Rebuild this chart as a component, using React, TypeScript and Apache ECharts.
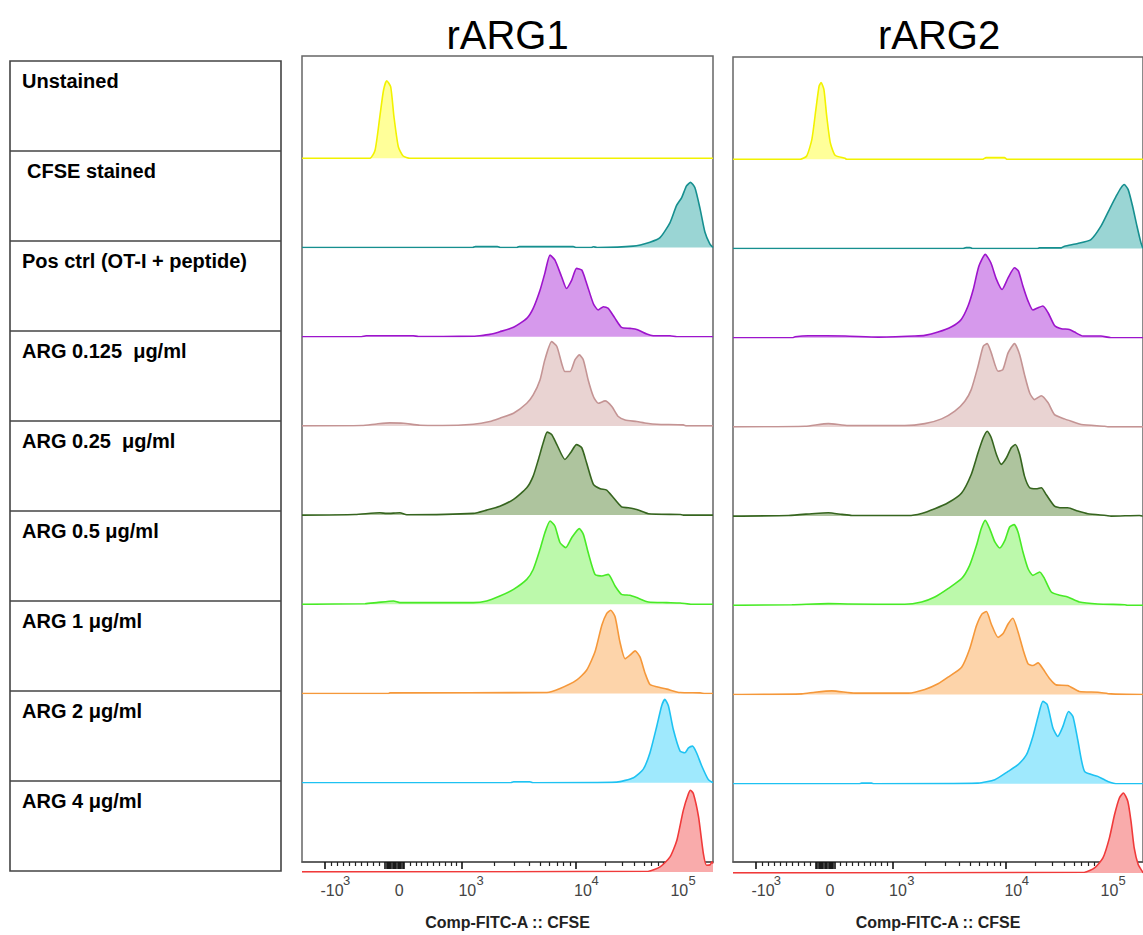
import React, { useEffect, useRef } from 'react';
import * as echarts from 'echarts';

// ---------- Data ----------
const ROW_LABELS = [
  'Unstained',
  'CFSE stained',
  'Pos ctrl (OT-I + peptide)',
  'ARG 0.125  μg/ml',
  'ARG 0.25  μg/ml',
  'ARG 0.5 μg/ml',
  'ARG 1 μg/ml',
  'ARG 2 μg/ml',
  'ARG 4 μg/ml',
];
const PANEL_TITLES = ['rARG1', 'rARG2'];
const AXIS_TITLE = 'Comp-FITC-A :: CFSE';

// display channel scale (0..1024) of the biexponential axis
const MAJOR_TICKS = [57, 238, 398, 682, 925];
const ZERO_TICKS = [207, 210, 213, 216, 219, 222, 225, 228, 231, 234, 241, 244, 247, 250, 253];
const MINOR_TICKS = [
  74, 88, 103, 118, 133, 148, 163, 178, 193,
  269, 284, 298, 313, 327, 342, 356, 371, 385,
  480, 530, 566, 593, 616, 636, 652, 668,
  755, 798, 828, 852, 871, 887, 901, 914,
  998,
];
// tick labels: mantissa part and exponent part, each at its own position
const TICK_BASE_POS = [75, 242, 412, 700, 940];
const TICK_BASE_TEXT = ['-10', '0', '10', '10', '10'];
const TICK_EXP_POS = [111, 444, 730, 972];
const TICK_EXP_TEXT = ['3', '3', '4', '5'];

const LINE_COLORS = ['#f2f200', '#168f8f', '#9d14cc', '#c49494', '#36651f', '#48ea26', '#f5983a', '#1ec2f2', '#f03a3a'];
const FILL_COLORS = ['#ffff99', '#9ad5d4', '#d699ec', '#e9d3d2', '#aec49e', '#bcf9ab', '#fdd4aa', '#9fe9fd', '#f9abab'];

// histograms: [channel, % of row height]
const P1_UNSTAINED = [[0, 0], [169, 0], [182, 9], [194, 47], [203, 76], [211, 87], [221, 80], [229, 47], [240, 13], [252, 2.6], [269, 0], [1024, 0]];
const P1_CFSE = [[0, 0], [425, 0], [432, 1], [487, 1], [494, 0], [535, 0], [541, 1], [676, 1], [682, 0], [720, 0], [726, 0.8], [735, 0], [825, 1.5], [867, 6], [892, 11], [917, 28], [933, 47], [946, 56], [958, 69], [968, 73], [979, 67], [992, 43], [1004, 17], [1016, 4], [1024, 0]];
const P1_POS = [[0, 0], [148, 0], [160, 1], [178, 1], [277, 1], [290, 0.3], [352, 0.3], [430, 0.5], [443, 1], [468, 2.6], [493, 5.6], [527, 10.5], [560, 20.5], [576, 31.7], [593, 52], [605, 71], [618, 91.5], [630, 86], [647, 67], [659, 54], [672, 63.5], [684, 76.6], [697, 74.7], [709, 60], [726, 37], [738, 30], [751, 33.6], [763, 31.7], [780, 20.5], [796, 10.5], [817, 9.3], [834, 8.2], [859, 3], [875, 1.1], [917, 1.1], [934, 0], [1024, 0]];
const P1_ARG0125 = [[0, 0], [149, 0.4], [186, 2.2], [219, 3.4], [253, 3], [294, 0.7], [350, 0.5], [427, 1.9], [468, 4.9], [493, 8.6], [527, 14.2], [560, 25.4], [576, 34.7], [593, 51.5], [605, 74], [622, 94.5], [635, 89], [647, 70], [655, 61], [668, 61], [680, 74], [691, 79.6], [701, 74], [713, 51.5], [726, 33], [738, 25.4], [755, 28], [772, 21.7], [788, 10.5], [805, 6.7], [834, 4.9], [859, 3], [884, 1.9], [950, 1.1], [958, 0], [1024, 0]];
const P1_ARG025 = [[0, 0], [132, 0.7], [194, 2.6], [211, 1.9], [244, 2.6], [261, 0.4], [427, 1.9], [460, 5.6], [493, 10], [527, 17.6], [560, 30.6], [576, 43.7], [589, 62.4], [601, 81], [611, 93], [622, 90.4], [635, 79], [655, 62.4], [669, 69.8], [684, 79], [697, 75.5], [709, 58.6], [726, 34.4], [743, 29.5], [759, 28], [776, 19.4], [796, 9.3], [813, 8.2], [834, 6.3], [863, 1.5], [942, 0.7], [950, 0], [1024, 0]];
const P1_ARG05 = [[0, 0], [157, 0.7], [186, 1.9], [228, 3.7], [244, 1.9], [286, 1.9], [427, 1.9], [460, 3.7], [493, 9.3], [527, 16.8], [560, 28], [576, 39], [593, 61.6], [605, 80], [618, 93.4], [630, 87.8], [643, 69], [657, 63.5], [672, 74.7], [691, 84.8], [701, 78.4], [713, 58], [730, 33.6], [747, 31.7], [763, 33.6], [780, 20.5], [796, 11.2], [817, 10.1], [834, 7.5], [863, 2.6], [909, 1.9], [942, 1.5], [971, 0], [1024, 0]];
const P1_ARG1 = [[0, 0], [215, 0], [219, 0.7], [610, 1.1], [643, 5.6], [684, 14.9], [709, 26], [730, 46.7], [747, 76.6], [759, 89.6], [769, 93.4], [780, 86], [792, 58], [805, 39], [817, 43], [830, 47.8], [842, 41], [855, 22.4], [867, 10], [884, 7.5], [909, 4.9], [942, 1.1], [992, 0.7], [1004, 0], [1024, 0]];
const P1_ARG2 = [[0, 0], [520, 0], [527, 1.1], [568, 1.1], [575, 0], [784, 0.7], [826, 5.6], [850, 14.9], [867, 33.6], [884, 63.5], [896, 86], [904, 93.4], [913, 86], [925, 60], [942, 35.5], [954, 33.6], [963, 39], [973, 41], [983, 33.6], [996, 18.7], [1012, 3.7], [1024, 0]];
const P1_ARG4 = [[0, 0], [863, 0.7], [892, 5.6], [917, 16.8], [934, 35.5], [950, 69], [963, 87.8], [968, 91.5], [975, 87.8], [988, 61.6], [1000, 20.5], [1008, 7.5], [1017, 8], [1021, 11.2], [1024, 9.3]];

const P2_UNSTAINED = [[0, 0], [168, 0], [184, 3.7], [197, 22.4], [207, 56], [215, 82], [220, 86], [227, 78.4], [234, 48.6], [243, 18.7], [255, 4.5], [280, 1.1], [284, 0], [624, 0], [632, 1.9], [678, 1.9], [684, 0], [1024, 0]];
const P2_CFSE = [[0, 0], [575, 0], [582, 1], [592, 1], [598, 0], [760, 0], [765, 0.7], [820, 0.7], [828, 2.6], [861, 5.6], [894, 10], [919, 25], [940, 43.7], [957, 58.6], [969, 68], [977, 71.7], [987, 66], [998, 47.4], [1009, 25], [1019, 6.3], [1024, 0]];
const P2_POS = [[0, 0], [150, 0], [155, 1.1], [188, 2.2], [280, 1.9], [363, 0.7], [454, 1.9], [479, 2.6], [512, 6.3], [546, 12.3], [570, 20.5], [587, 35.5], [600, 54], [614, 80], [630, 93.4], [644, 84], [658, 65.4], [672, 54], [687, 67], [703, 78.4], [713, 74.7], [724, 58], [737, 41], [749, 31], [762, 33.6], [774, 35.5], [787, 28], [803, 13.8], [820, 10.1], [840, 9.3], [853, 6.3], [874, 1.9], [919, 1.9], [944, 0], [1024, 0]];
const P2_ARG0125 = [[0, 0], [180, 0.7], [238, 3.7], [288, 1.5], [355, 1.5], [429, 1.5], [479, 3.7], [521, 9], [554, 17.6], [579, 28.8], [595, 41.8], [612, 68], [625, 90.4], [635, 93.4], [645, 83], [662, 62.4], [674, 64.2], [687, 83], [703, 93.4], [716, 81], [728, 58.6], [741, 38], [753, 30.6], [770, 35], [787, 27], [803, 13.8], [828, 9], [845, 6.3], [870, 2.6], [928, 0.7], [936, 0], [1024, 0]];
const P2_ARG025 = [[0, 0], [139, 0.7], [205, 3], [238, 3.7], [272, 1.9], [297, 0.7], [438, 0.7], [471, 3], [504, 8.2], [537, 14.9], [571, 26], [595, 46.7], [612, 71], [625, 87.8], [635, 95.2], [645, 87.8], [658, 69], [670, 58], [683, 65.4], [695, 76.6], [705, 80.3], [716, 69], [728, 44.8], [741, 31.7], [757, 30.6], [770, 31.7], [782, 24.3], [803, 11.2], [820, 9.3], [836, 9.3], [861, 5.6], [886, 2.6], [932, 0.7], [944, 0], [1015, 0.7], [1023, 0], [1024, 0]];
const P2_ARG05 = [[0, 0], [147, 0.7], [238, 1.9], [288, 1.5], [429, 1.1], [471, 3.7], [504, 9.3], [537, 18.7], [571, 30], [591, 44.8], [608, 67], [620, 86], [630, 95.2], [641, 86], [654, 71], [666, 64.2], [679, 72.8], [691, 87.8], [702, 90.4], [712, 82], [724, 60], [737, 41], [749, 33.6], [766, 37.4], [778, 30], [795, 14.9], [816, 11.2], [836, 9.3], [865, 3.7], [911, 1.5], [978, 0.7], [986, 0], [1024, 0]];
const P2_ARG1 = [[0, 0], [172, 0.7], [205, 2.6], [247, 4.1], [305, 1.5], [438, 1.5], [479, 5.6], [512, 12], [537, 19.4], [571, 30.6], [591, 51], [608, 77], [622, 90.4], [633, 93], [645, 79], [662, 64], [674, 68], [687, 79], [699, 85.5], [712, 70], [724, 51], [737, 34.4], [749, 32.5], [762, 35.5], [774, 28.8], [791, 17.6], [807, 10.8], [836, 10.1], [865, 3.4], [911, 2.6], [944, 0.7], [1024, 0]];
const P2_ARG2 = [[0, 0], [315, 0], [321, 0.7], [346, 0.7], [352, 0], [612, 0.7], [654, 4.5], [687, 13.8], [712, 21.3], [733, 32.5], [749, 53], [762, 75.4], [774, 92.3], [785, 88.5], [799, 62.4], [811, 53], [824, 64.2], [838, 81], [849, 75.4], [861, 49.3], [878, 13.8], [911, 8.2], [936, 2.6], [961, 0], [1024, 0]];
const P2_ARG4 = [[0, 0], [878, 0.7], [903, 5.6], [924, 16.8], [940, 39], [953, 65.4], [965, 84], [975, 89.6], [986, 80.3], [994, 58], [1002, 28], [1012, 9.3], [1023, 1.1], [1024, 0]];

const PANEL_DATA = [
  [P1_UNSTAINED, P1_CFSE, P1_POS, P1_ARG0125, P1_ARG025, P1_ARG05, P1_ARG1, P1_ARG2, P1_ARG4],
  [P2_UNSTAINED, P2_CFSE, P2_POS, P2_ARG0125, P2_ARG025, P2_ARG05, P2_ARG1, P2_ARG2, P2_ARG4],
];

// ---------- Layout ----------
const FONT = '"Liberation Sans", Arial, sans-serif';
const PANEL_W = 411;
const PANELS = [
  { left: 302, top: 56, base0: 158.3 },
  { left: 733, top: 57, base0: 159.3 },
];
const ROW_STEP = 89.2;
const PANEL_H = 816;

function lookup(pos: number[], text: string[]) {
  return (v: number) => {
    const i = pos.findIndex((p) => Math.abs(p - v) < 0.5);
    return i < 0 ? '' : text[i];
  };
}

function buildOption() {
  const grid: any[] = [];
  const xAxis: any[] = [];
  const yAxis: any[] = [];
  const series: any[] = [];
  const majorVals = [...MAJOR_TICKS, ...ZERO_TICKS].sort((a, b) => a - b);

  PANELS.forEach((p, pi) => {
    const gi = grid.length;
    grid.push({
      left: p.left, top: p.top, width: PANEL_W, height: PANEL_H,
      show: true, borderColor: '#666', borderWidth: 1.5, backgroundColor: 'transparent',
    });
    xAxis.push({
      gridIndex: gi, type: 'value', min: 0, max: 1024, position: 'bottom',
      axisLine: { show: true, onZero: false, lineStyle: { color: '#555', width: 1.5 } },
      axisTick: { show: true, customValues: majorVals, length: 7, lineStyle: { color: '#111', width: 1.6 } },
      axisLabel: {
        show: true, customValues: TICK_BASE_POS, formatter: lookup(TICK_BASE_POS, TICK_BASE_TEXT),
        margin: 20, fontSize: 16, lineHeight: 16, verticalAlign: 'top', color: '#444', fontFamily: FONT,
      },
      splitLine: { show: false },
      name: AXIS_TITLE, nameLocation: 'middle', nameGap: 60,
      nameTextStyle: { fontSize: 16, lineHeight: 16, fontWeight: 'bold', color: '#222', fontFamily: FONT, verticalAlign: 'middle' },
    });
    xAxis.push({
      gridIndex: gi, type: 'value', min: 0, max: 1024, position: 'bottom',
      axisLine: { show: false, onZero: false },
      axisTick: { show: true, customValues: MINOR_TICKS, length: 4, lineStyle: { color: '#222', width: 1.2 } },
      axisLabel: {
        show: true, customValues: TICK_EXP_POS, formatter: lookup(TICK_EXP_POS, TICK_EXP_TEXT),
        margin: 11, fontSize: 13, lineHeight: 14, verticalAlign: 'top', color: '#444', fontFamily: FONT,
      },
      splitLine: { show: false },
    });
    yAxis.push({ gridIndex: gi, type: 'value', min: 0, max: 1, show: false });

    PANEL_DATA[pi].forEach((data, ri) => {
      const g = grid.length;
      const base = p.base0 + ROW_STEP * ri;
      grid.push({ left: p.left, top: base - ROW_STEP, width: PANEL_W, height: ROW_STEP, show: false });
      const xi = xAxis.length;
      xAxis.push({ gridIndex: g, type: 'value', min: 0, max: 1024, show: false });
      const yi = yAxis.length;
      yAxis.push({ gridIndex: g, type: 'value', min: 0, max: 100, show: false });
      series.push({
        type: 'line', name: `${PANEL_TITLES[pi]} ${ROW_LABELS[ri]}`,
        xAxisIndex: xi, yAxisIndex: yi, data,
        symbol: 'none', smooth: 0.2, clip: true, silent: true, z: 3,
        lineStyle: { color: LINE_COLORS[ri], width: 1.6 },
        areaStyle: { color: FILL_COLORS[ri], opacity: 1 },
      });
    });
  });

  const graphic: any[] = [];
  // table
  graphic.push({
    type: 'rect', shape: { x: 10, y: 61, width: 271, height: 810 },
    style: { fill: 'none', stroke: '#444', lineWidth: 1.6 }, silent: true,
  });
  for (let i = 1; i < ROW_LABELS.length; i++) {
    graphic.push({
      type: 'line', shape: { x1: 10, y1: 61 + 90 * i, x2: 281, y2: 61 + 90 * i },
      style: { stroke: '#444', lineWidth: 1.6 }, silent: true,
    });
  }
  ROW_LABELS.forEach((t, i) => {
    graphic.push({
      type: 'text', x: i === 1 ? 27 : 22, y: 81 + 90 * i, silent: true,
      style: { text: t, fontSize: 20, fontWeight: 'bold', fontFamily: FONT, fill: '#000', align: 'left', verticalAlign: 'middle' },
    });
  });
  PANEL_TITLES.forEach((t, i) => {
    graphic.push({
      type: 'text', x: PANELS[i].left + PANEL_W / 2 + (i === 1 ? 0.5 : 0), y: 35, silent: true,
      style: { text: t, fontSize: 40, fontFamily: FONT, fill: '#000', align: 'center', verticalAlign: 'middle' },
    });
  });

  return { animation: false, backgroundColor: '#fff', grid, xAxis, yAxis, series, graphic };
}

export default function App() {
  const ref = useRef<HTMLDivElement>(null);
  useEffect(() => {
    if (!ref.current) return;
    const chart = echarts.init(ref.current, undefined, { renderer: 'svg' });
    chart.setOption(buildOption() as any);
    return () => chart.dispose();
  }, []);
  return <div ref={ref} style={{ position: 'absolute', left: 0, top: 0, width: 1143, height: 935 }} />;
}
